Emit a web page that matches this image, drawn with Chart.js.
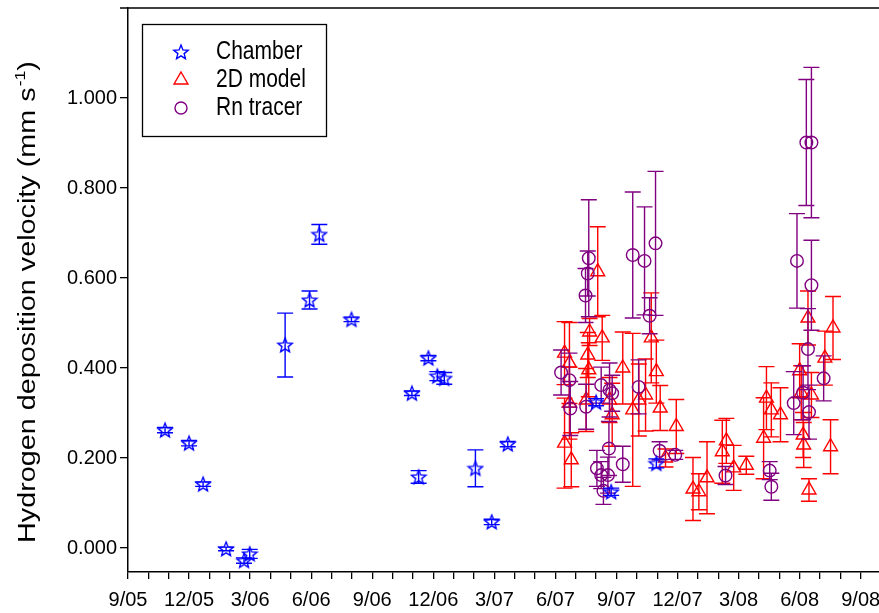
<!DOCTYPE html>
<html><head><meta charset="utf-8">
<script src="https://cdn.jsdelivr.net/npm/chart.js@4"></script>
<style>html,body{margin:0;padding:0;background:#fff}#wrap{width:879px;height:613px}</style>
</head><body><div id="wrap"><canvas id="c" width="879" height="613"></canvas></div>
<script>
// x values are months since September 2005 (0 = 9/05)
const xTickLabels = ['9/05','12/05','3/06','6/06','9/06','12/06','3/07','6/07','9/07','12/07','3/08','6/08','9/08'];
const yTickValues = [0, 0.2, 0.4, 0.6, 0.8, 1.0];

const chamberMonth = [1.82, 3.0, 3.69, 4.82, 5.7, 5.98, 7.72, 8.92, 9.4, 10.98, 13.95, 14.28, 14.76, 15.2, 15.54, 17.07, 17.87, 18.66, 23.0, 23.74, 25.96];
const chamberValue = [0.262, 0.233, 0.142, -0.002, -0.028, -0.013, 0.451, 0.551, 0.697, 0.508, 0.344, 0.158, 0.422, 0.382, 0.377, 0.177, 0.058, 0.231, 0.324, 0.125, 0.188];
const chamberErr   = [0.006, 0.006, 0.005, 0.004, 0.006, 0.010, 0.071, 0.020, 0.022, 0.005, 0.005, 0.014, 0.006, 0.010, 0.013, 0.041, 0.006, 0.006, 0.008, 0.008, 0.010];

const modelMonth = [21.45, 21.69, 21.69, 21.45, 21.78, 22.51, 22.59, 22.64, 22.68, 23.08, 23.3, 23.66, 23.79, 24.31, 24.8, 25.1, 25.43, 25.71, 25.96, 26.15, 26.41, 26.94, 27.76, 28.05, 28.45, 29.2, 29.4, 29.76, 30.38, 31.23, 31.37, 31.61, 32.06, 33.0, 33.08, 33.17, 33.2, 33.41, 33.46, 33.58, 34.24, 34.52, 34.64];
const modelValue = [0.433, 0.411, 0.322, 0.233, 0.196, 0.329, 0.429, 0.396, 0.48, 0.614, 0.467, 0.329, 0.296, 0.40, 0.307, 0.329, 0.34, 0.467, 0.392, 0.311, 0.20, 0.27, 0.131, 0.125, 0.156, 0.214, 0.238, 0.178, 0.184, 0.244, 0.333, 0.307, 0.296, 0.394, 0.345, 0.251, 0.229, 0.511, 0.129, 0.34, 0.422, 0.225, 0.489];
const modelErr   = [0.07, 0.09, 0.08, 0.10, 0.06, 0.07, 0.05, 0.06, 0.03, 0.10, 0.05, 0.05, 0.07, 0.08, 0.17, 0.08, 0.08, 0.10, 0.07, 0.05, 0.02, 0.06, 0.07, 0.04, 0.08, 0.07, 0.05, 0.05, 0.02, 0.09, 0.07, 0.06, 0.06, 0.06, 0.06, 0.05, 0.05, 0.06, 0.025, 0.05, 0.06, 0.06, 0.07];

const rnMonth = [21.28, 21.69, 21.73, 22.48, 22.51, 22.59, 22.64, 23.04, 23.25, 23.25, 23.36, 23.58, 23.63, 23.66, 23.79, 24.31, 24.8, 25.09, 25.38, 25.63, 25.92, 26.12, 26.89, 29.36, 31.53, 31.61, 32.71, 32.87, 33.17, 33.33, 33.41, 33.46, 33.58, 33.58, 34.18];
const rnValue = [0.39, 0.373, 0.31, 0.561, 0.314, 0.61, 0.644, 0.177, 0.362, 0.162, 0.127, 0.162, 0.221, 0.351, 0.344, 0.186, 0.651, 0.358, 0.638, 0.516, 0.677, 0.216, 0.207, 0.161, 0.172, 0.136, 0.322, 0.638, 0.345, 0.901, 0.442, 0.302, 0.584, 0.901, 0.377];
const rnErr   = [0.05, 0.06, 0.06, 0.06, 0.05, 0.05, 0.13, 0.04, 0.04, 0.03, 0.03, 0.04, 0.06, 0.06, 0.04, 0.04, 0.14, 0.06, 0.12, 0.04, 0.16, 0.02, 0.01, 0.02, 0.02, 0.03, 0.07, 0.105, 0.06, 0.14, 0.09, 0.06, 0.10, 0.167, 0.05];

const BLUE = '#0000ff', RED = '#ff0000', PURPLE = '#800080';
const FONT = "'Liberation Sans', Arial, sans-serif";
const X_MAX = 36.9, Y_MIN = -0.0533, Y_MAX = 1.2;

function makeStar(color) {
  const c = document.createElement('canvas');
  c.width = 18; c.height = 18;
  const g = c.getContext('2d');
  g.strokeStyle = color; g.lineWidth = 1.4; g.lineJoin = 'miter';
  g.beginPath();
  for (let i = 0; i < 10; i++) {
    const r = i % 2 === 0 ? 7.5 : 3.3;
    const a = -Math.PI / 2 + i * Math.PI / 5;
    const px = 9 + r * Math.cos(a), py = 9.6 + r * Math.sin(a);
    if (i === 0) g.moveTo(px, py); else g.lineTo(px, py);
  }
  g.closePath(); g.stroke();
  return c;
}
const starImg = makeStar(BLUE);

const pts = (xs, ys) => xs.map((x, i) => ({ x: x, y: ys[i] }));

const errorBars = {
  id: 'errorBars',
  beforeDatasetDraw(chart, args) {
    const ds = chart.data.datasets[args.index];
    if (!ds.errors) return;
    const xs = chart.scales.x, ys = chart.scales.y, ctx = chart.ctx, a = chart.chartArea;
    ctx.save();
    ctx.beginPath(); ctx.rect(a.left, a.top, a.right - a.left, a.bottom - a.top); ctx.clip();
    ctx.strokeStyle = ds.borderColor; ctx.lineWidth = 1.4;
    ds.data.forEach((p, i) => {
      const e = ds.errors[i];
      const px = xs.getPixelForValue(p.x);
      const yt = ys.getPixelForValue(p.y + e), yb = ys.getPixelForValue(p.y - e);
      ctx.beginPath();
      ctx.moveTo(px, yt); ctx.lineTo(px, yb);
      ctx.moveTo(px - 8, yt); ctx.lineTo(px + 8, yt);
      ctx.moveTo(px - 8, yb); ctx.lineTo(px + 8, yb);
      ctx.stroke();
    });
    ctx.restore();
  }
};

const frameAndLegend = {
  id: 'frameAndLegend',
  afterDraw(chart) {
    const ctx = chart.ctx, a = chart.chartArea;
    ctx.save();
    // top frame line and top-left tick
    ctx.strokeStyle = '#000'; ctx.lineWidth = 1.5;
    ctx.beginPath(); ctx.moveTo(a.left - 8, a.top); ctx.lineTo(a.right, a.top); ctx.stroke();
    // legend
    ctx.lineWidth = 1.3;
    ctx.strokeRect(142.5, 24.5, 184, 112);
    const rows = [52, 80, 108];
    chart.data.datasets.forEach((ds, i) => {
      const y = rows[i], x = 181;
      ctx.strokeStyle = ds.borderColor; ctx.lineWidth = 1.4;
      if (ds.pointStyle === starImg) {
        ctx.drawImage(starImg, x - 9, y - 9);
      } else if (ds.pointStyle === 'triangle') {
        const r = 8;
        ctx.beginPath();
        ctx.moveTo(x, y - r);
        ctx.lineTo(x + r * Math.sin(2 * Math.PI / 3), y - r * Math.cos(2 * Math.PI / 3));
        ctx.lineTo(x + r * Math.sin(4 * Math.PI / 3), y - r * Math.cos(4 * Math.PI / 3));
        ctx.closePath(); ctx.stroke();
      } else {
        ctx.beginPath(); ctx.arc(x, y, 6, 0, Math.PI * 2); ctx.stroke();
      }
      ctx.save();
      ctx.fillStyle = '#000';
      ctx.font = '21px ' + FONT;
      ctx.textBaseline = 'middle';
      ctx.translate(216, y);
      ctx.scale(1, 1.2);
      ctx.fillText(ds.label, 0, 0);
      ctx.restore();
    });
    // y-axis title with superscript
    ctx.fillStyle = '#000';
    const main = 'Hydrogen deposition velocity (mm s', sup = '-1', end = ')';
    ctx.font = '23px ' + FONT;
    const w1 = ctx.measureText(main).width, w3 = ctx.measureText(end).width;
    ctx.font = '14px ' + FONT;
    const w2 = ctx.measureText(sup).width;
    const W = w1 + w2 + w3 + 1;
    ctx.translate(35, 302);
    ctx.rotate(-Math.PI / 2);
    ctx.scale(1.25, 1);
    ctx.textBaseline = 'alphabetic';
    const x0 = -W / 2;
    ctx.font = '23px ' + FONT; ctx.fillText(main, x0, 0);
    ctx.font = '14px ' + FONT; ctx.fillText(sup, x0 + w1 + 1, -10);
    ctx.font = '23px ' + FONT; ctx.fillText(end, x0 + w1 + w2 + 1, 0);
    ctx.restore();
  }
};

new Chart(document.getElementById('c'), {
  type: 'scatter',
  data: {
    datasets: [
      { label: 'Chamber', data: pts(chamberMonth, chamberValue), errors: chamberErr,
        pointStyle: starImg, pointRadius: 7, pointHoverRadius: 7, borderColor: BLUE, backgroundColor: 'rgba(0,0,0,0)', order: 0 },
      { label: '2D model', data: pts(modelMonth, modelValue), errors: modelErr,
        pointStyle: 'triangle', pointRadius: 8, pointHoverRadius: 8, borderWidth: 1.4, borderColor: RED, backgroundColor: 'rgba(0,0,0,0)', order: 2 },
      { label: 'Rn tracer', data: pts(rnMonth, rnValue), errors: rnErr,
        pointStyle: 'circle', pointRadius: 6.3, pointHoverRadius: 6.3, borderWidth: 1.4, borderColor: PURPLE, backgroundColor: 'rgba(0,0,0,0)', order: 1 }
    ]
  },
  options: {
    responsive: false,
    animation: false,
    devicePixelRatio: 1,
    layout: { autoPadding: false, padding: { top: 8, right: 0, left: 0, bottom: 0 } },
    plugins: { legend: { display: false }, tooltip: { enabled: false } },
    scales: {
      x: {
        type: 'linear', min: 0, max: X_MAX,
        afterBuildTicks: s => { s.ticks = Array.from({ length: 37 }, (_, i) => ({ value: i })); },
        afterFit: s => { s.height = 41; s.paddingLeft = 0; s.paddingRight = 0; },
        ticks: {
          autoSkip: false, maxRotation: 0, minRotation: 0, padding: 9, color: '#000',
          font: { family: FONT, size: 20 },
          callback: v => { const r = Math.round(v); return r % 3 === 0 ? xTickLabels[r / 3] : ''; }
        },
        grid: { drawOnChartArea: false, drawTicks: true, tickLength: 7, color: '#000', lineWidth: 1.3 },
        border: { display: true, color: '#000', width: 1.5 }
      },
      y: {
        type: 'linear', min: Y_MIN, max: Y_MAX,
        afterBuildTicks: s => { s.ticks = yTickValues.map(v => ({ value: v })); },
        afterFit: s => { s.width = 128; s.paddingTop = 0; s.paddingBottom = 0; },
        ticks: {
          padding: 3, color: '#000',
          font: { family: FONT, size: 20 },
          callback: v => Number(v).toFixed(3)
        },
        grid: { drawOnChartArea: false, drawTicks: true, tickLength: 8, color: '#000', lineWidth: 1.3 },
        border: { display: true, color: '#000', width: 1.5 }
      }
    }
  },
  plugins: [errorBars, frameAndLegend]
});
</script>
</body></html>
